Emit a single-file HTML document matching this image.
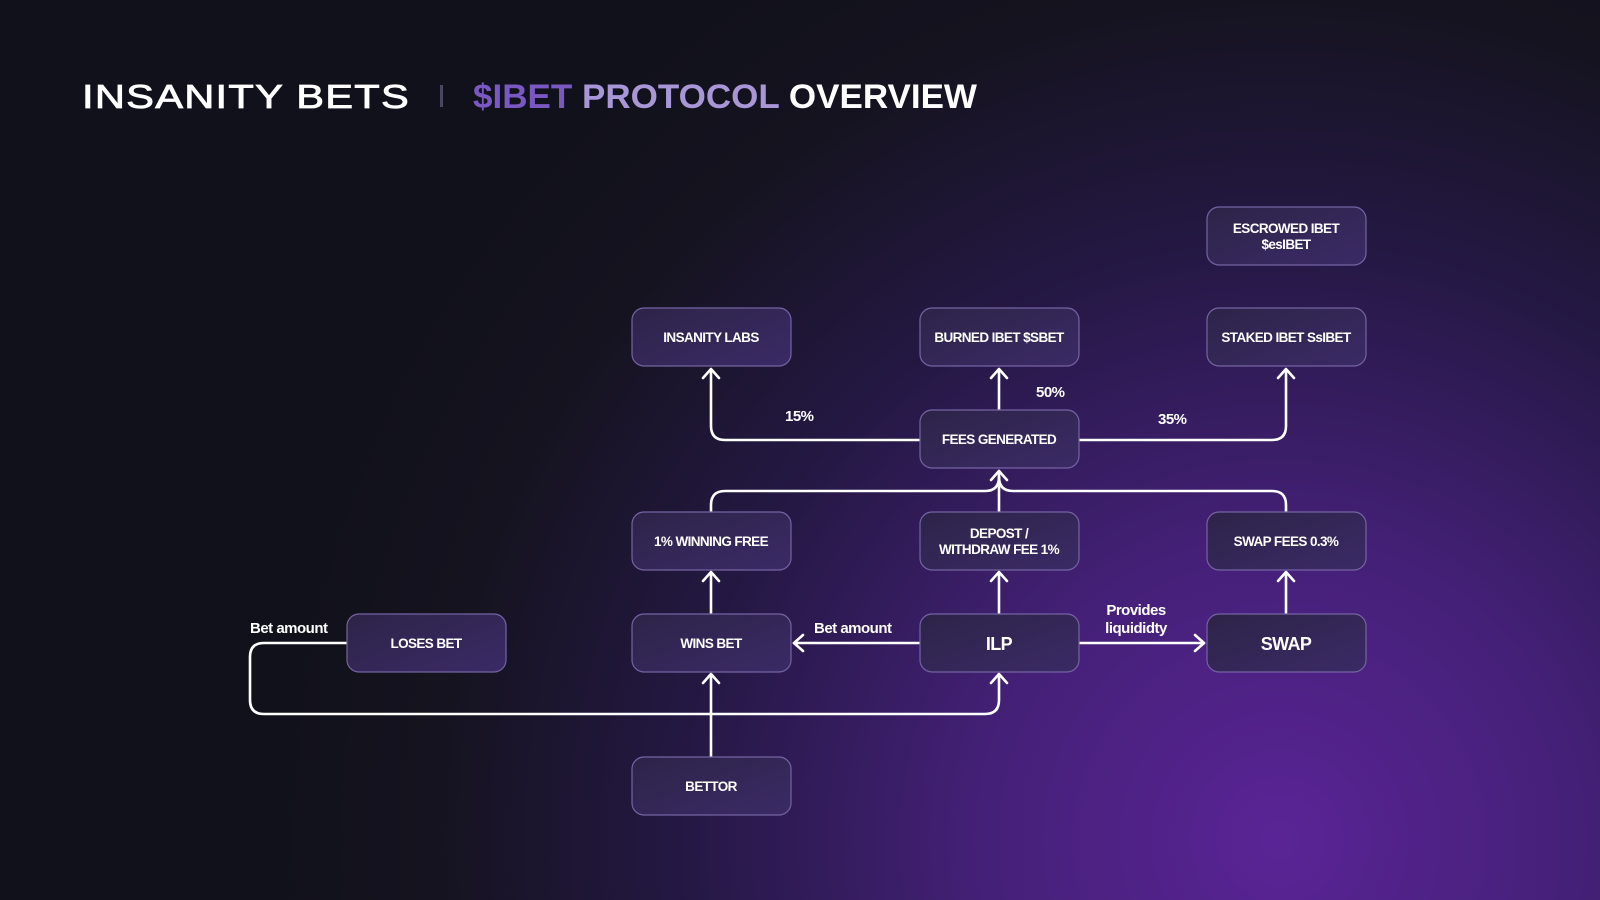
<!DOCTYPE html>
<html><head><meta charset="utf-8"><style>
html,body{margin:0;padding:0;width:1600px;height:900px;overflow:hidden;background:#11111d}
svg{display:block}
text{font-family:"Liberation Sans",sans-serif;fill:#fff}
.n{fill:url(#ng);stroke:#7563a3;stroke-width:1.2}
.t{font-size:13.5px;font-weight:bold;letter-spacing:-0.6px;text-anchor:middle}
.l{fill:none;stroke:#fff;stroke-width:2.6;stroke-linecap:round;stroke-linejoin:round}
.lab{font-size:15px;font-weight:bold;letter-spacing:-0.5px}
</style></head><body>
<svg width="1600" height="900" viewBox="0 0 1600 900">
<defs>
<radialGradient id="bg" cx="1280" cy="840" r="1000" gradientUnits="userSpaceOnUse">
<stop offset="0" stop-color="#5a2496"/>
<stop offset="0.3" stop-color="#442077"/>
<stop offset="0.6" stop-color="#241843"/>
<stop offset="0.85" stop-color="#15131f"/>
<stop offset="1" stop-color="#11111b"/>
</radialGradient>
<linearGradient id="ng" x1="0" y1="0" x2="1" y2="1">
<stop offset="0" stop-color="#2d2448"/>
<stop offset="1" stop-color="#3b2a66"/>
</linearGradient>
</defs>
<rect width="1600" height="900" fill="url(#bg)"/>
<text x="82" y="108" font-size="33" textLength="328" lengthAdjust="spacingAndGlyphs" style="letter-spacing:1px;stroke:#fff;stroke-width:0.8">INSANITY BETS</text>
<rect x="440" y="85" width="3" height="22" fill="#4a4660"/>
<text x="473" y="108" font-size="34" font-weight="bold" textLength="504" lengthAdjust="spacingAndGlyphs"><tspan style="fill:#7a58c2">$IBET</tspan> <tspan style="fill:#a896d6">PROTOCOL</tspan> OVERVIEW</text>

<g class="l">
<path d="M920 440 H725 Q711 440 711 426 V370"/>
<path d="M703 378 L711 369 L719 378"/>
<path d="M999 409 V370"/><path d="M991 378 L999 369 L1007 378"/>
<path d="M1078 440 H1272 Q1286 440 1286 426 V370"/><path d="M1278 378 L1286 369 L1294 378"/>
<path d="M711 512 V505 Q711 491 725 491 H985 Q999 491 999 477"/>
<path d="M1286 512 V505 Q1286 491 1272 491 H1013 Q999 491 999 477"/>
<path d="M999 512 V471"/><path d="M991 480 L999 471 L1007 480"/>
<path d="M711 613 V573"/><path d="M703 581 L711 572 L719 581"/>
<path d="M999 613 V573"/><path d="M991 581 L999 572 L1007 581"/>
<path d="M1286 613 V573"/><path d="M1278 581 L1286 572 L1294 581"/>
<path d="M920 643 H794"/><path d="M803 635 L794 643 L803 651"/>
<path d="M1078 643 H1204"/><path d="M1195 635 L1204 643 L1195 651"/>
<path d="M711 757 V675"/><path d="M703 683 L711 674 L719 683"/>
<path d="M347 643 H264 Q250 643 250 657 V700 Q250 714 264 714 H985 Q999 714 999 700 V675"/>
<path d="M991 683 L999 674 L1007 683"/>
</g>

<g>
<rect class="n" x="1207" y="207" width="159" height="58" rx="12"/>
<text class="t" x="1286" y="233">ESCROWED IBET</text><text class="t" x="1286" y="249">$esIBET</text>
<rect class="n" x="632" y="308" width="159" height="58" rx="12"/><text class="t" x="711" y="342">INSANITY LABS</text>
<rect class="n" x="920" y="308" width="159" height="58" rx="12"/><text class="t" x="999" y="342">BURNED IBET  $SBET</text>
<rect class="n" x="1207" y="308" width="159" height="58" rx="12"/><text class="t" x="1286" y="342">STAKED IBET SsIBET</text>
<rect class="n" x="920" y="410" width="159" height="58" rx="12"/><text class="t" x="999" y="444">FEES GENERATED</text>
<rect class="n" x="632" y="512" width="159" height="58" rx="12"/><text class="t" x="711" y="546">1% WINNING FREE</text>
<rect class="n" x="920" y="512" width="159" height="58" rx="12"/>
<text class="t" x="999" y="538">DEPOST /</text><text class="t" x="999" y="554">WITHDRAW FEE 1%</text>
<rect class="n" x="1207" y="512" width="159" height="58" rx="12"/><text class="t" x="1286" y="546">SWAP FEES 0.3%</text>
<rect class="n" x="347" y="614" width="159" height="58" rx="12"/><text class="t" x="426" y="648">LOSES BET</text>
<rect class="n" x="632" y="614" width="159" height="58" rx="12"/><text class="t" x="711" y="648">WINS BET</text>
<rect class="n" x="920" y="614" width="159" height="58" rx="12"/><text class="t" x="999" y="650" style="font-size:18px">ILP</text>
<rect class="n" x="1207" y="614" width="159" height="58" rx="12"/><text class="t" x="1286" y="650" style="font-size:18px">SWAP</text>
<rect class="n" x="632" y="757" width="159" height="58" rx="12"/><text class="t" x="711" y="791">BETTOR</text>
</g>

<text class="lab" x="785" y="421">15%</text>
<text class="lab" x="1036" y="397">50%</text>
<text class="lab" x="1158" y="424">35%</text>
<text class="lab" x="814" y="633">Bet amount</text>
<text class="lab" x="250" y="633">Bet amount</text>
<text class="lab" x="1136" y="615" text-anchor="middle">Provides</text>
<text class="lab" x="1136" y="633" text-anchor="middle">liquididty</text>
</svg>
</body></html>
